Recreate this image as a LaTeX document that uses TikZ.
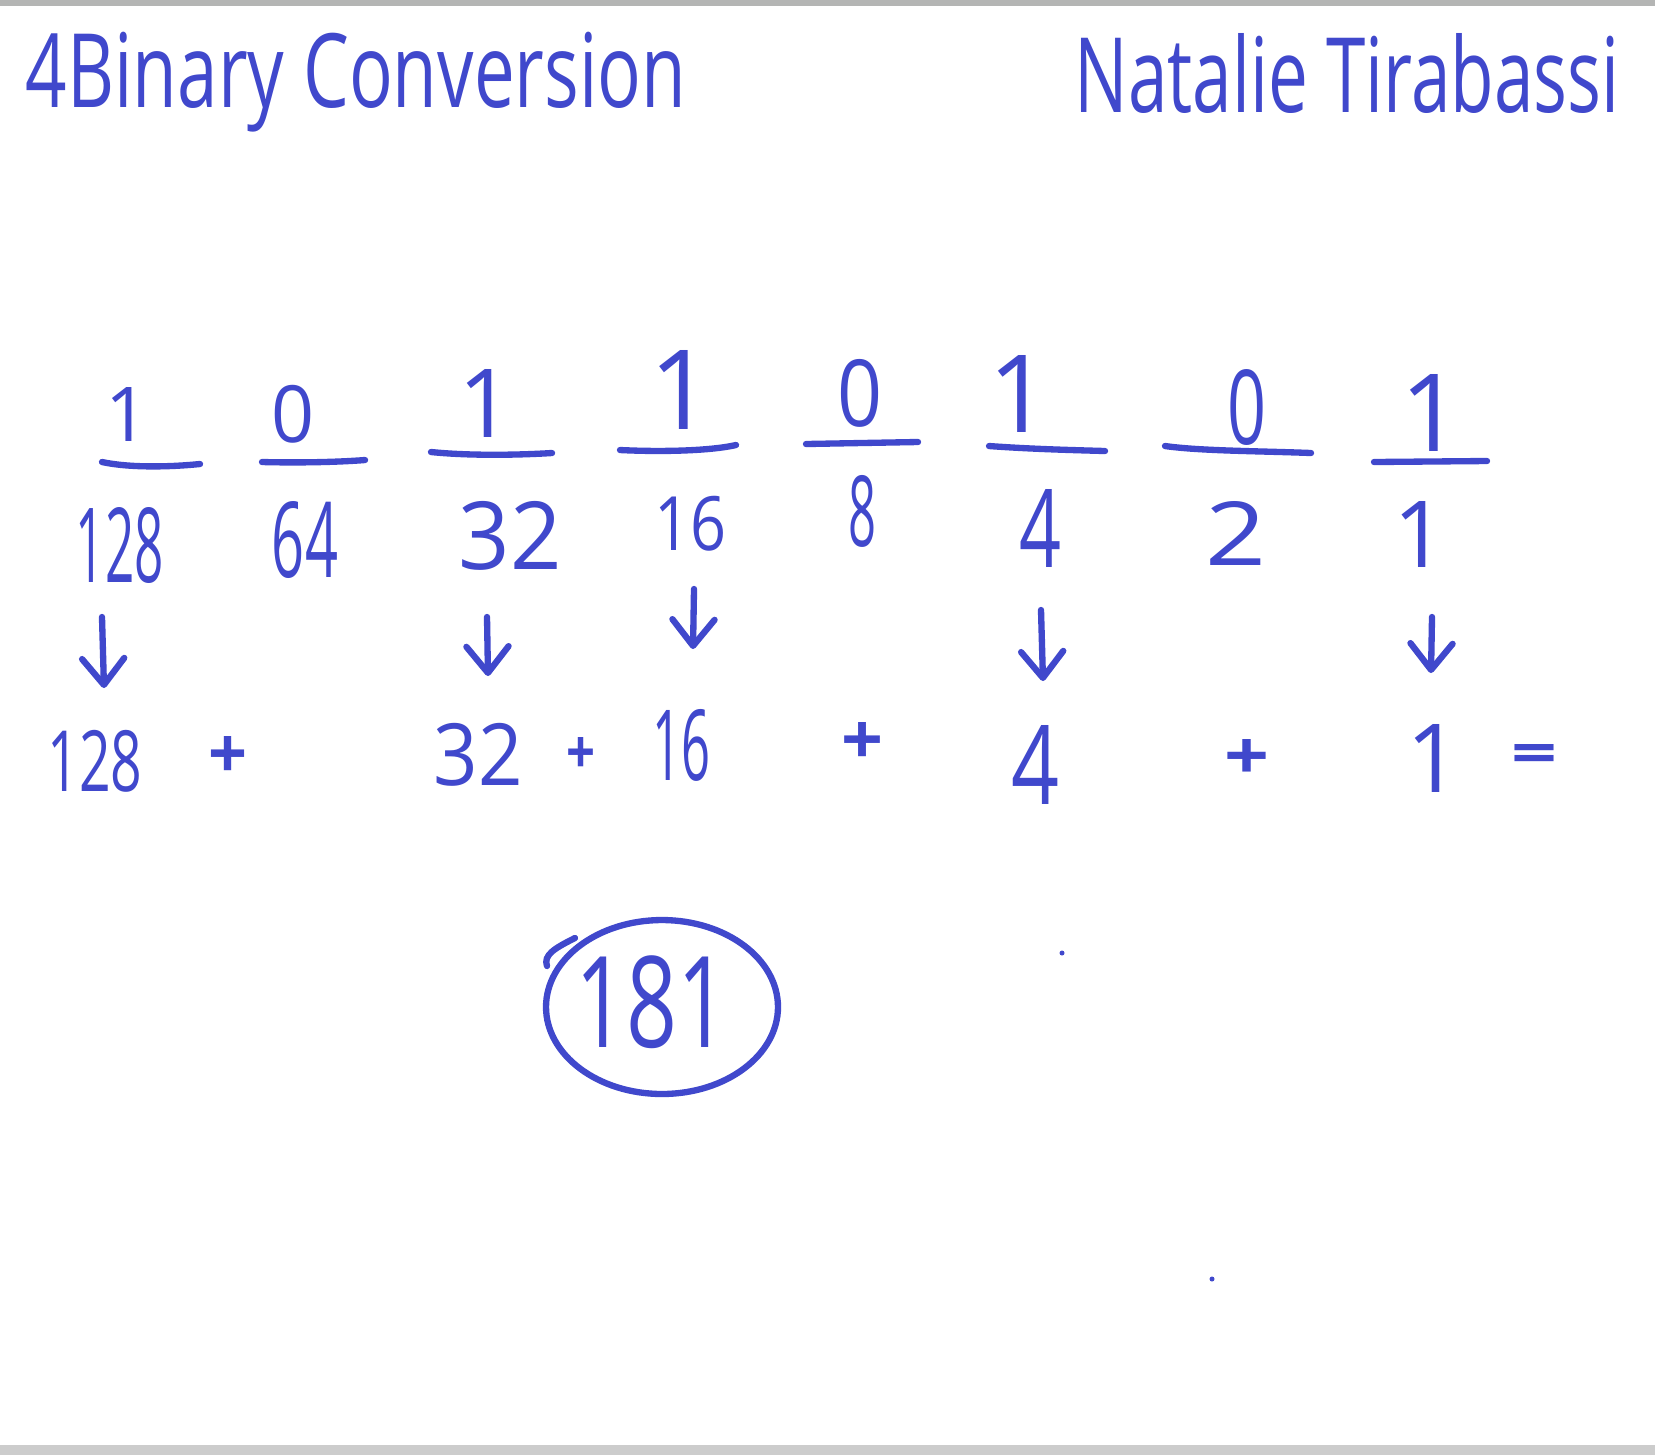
\documentclass[tikz,border=0pt]{standalone}
\usepackage{fontspec}
\setmainfont{Open Sans}
\usetikzlibrary{arrows.meta}
\definecolor{ink}{RGB}{64,72,204}
\definecolor{bartop}{RGB}{180,181,180}
\definecolor{barbot}{RGB}{204,204,204}
\newlength\pxu \setlength\pxu{0.02cm}
\newcommand{\hwx}[3]{\resizebox*{#1\pxu}{#2\pxu}{#3}}
\newcommand{\hhx}[2]{\resizebox*{!}{#1\pxu}{#2}}
\begin{document}
\begin{tikzpicture}[x=0.02cm,y=-0.02cm,
  txt/.style={inner sep=0pt, text=ink, anchor=center},
  inkline/.style={draw=ink, line width=3.6pt, line cap=round, line join=round},
  arr/.style={inkline, -{Straight Barb[length=15pt,width=24pt,round]}}]
\useasboundingbox (0,0) rectangle (1655,1455);
\fill[white] (0,0) rectangle (1655,1455);
\fill[bartop] (0,0) rectangle (1655,6);
\fill[barbot] (0,1445) rectangle (1655,1455);

% header
\node[txt] (title) at (356,82) {\hwx{660}{100}{4Binary Conversion}};
\node[txt] (author) at (1347,73) {\hwx{545}{80}{Natalie Tirabassi}};

% bits
\node[txt] (b1) at (127,414) {\hhx{54}{1}};
\node[txt] (b2) at (293,414) {\hwx{43}{58}{0}};
\node[txt] (b3) at (486,403) {\hhx{68}{1}};
\node[txt] (b4) at (681,390) {\hhx{79}{1}};
\node[txt] (b5) at (860,393) {\hwx{45}{68}{0}};
\node[txt] (b6) at (1019,394) {\hhx{77}{1}};
\node[txt] (b7) at (1247,407) {\hwx{39}{76}{0}};
\node[txt] (b8) at (1431,413) {\hhx{77}{1}};

% lines under bits
\draw[inkline] (102,462) .. controls (130,468) and (170,467) .. (200,464);
\draw[inkline] (262,462) .. controls (300,463) and (340,462) .. (365,460);
\draw[inkline] (431,452) .. controls (470,456) and (520,455) .. (552,453);
\draw[inkline] (620,450) .. controls (660,452) and (710,451) .. (736,445);
\draw[inkline] (806,444) -- (918,442);
\draw[inkline] (989,446) .. controls (1030,449) and (1070,450) .. (1105,451);
\draw[inkline] (1165,446) .. controls (1200,451) and (1260,451) .. (1311,453);
\draw[inkline] (1374,462) -- (1487,461);

% weights
\node[txt] (w1) at (120,545) {\hwx{88}{76}{128}};
\node[txt] (w2) at (305,540) {\hwx{66}{77}{64}};
\node[txt] (w3) at (510,536) {\hwx{103}{69}{32}};
\node[txt] (w4) at (690,524) {\hwx{72}{55}{16}};
\node[txt] (w5) at (862,511) {\hwx{28}{72}{8}};
\node[txt] (w6) at (1040,528) {\hwx{42}{78}{4}};
\node[txt] (w7) at (1236,533) {\hwx{61}{64}{2}};
\node[txt] (w8) at (1420,534) {\hhx{66}{1}};

% arrow coordinates
\coordinate (a1s) at (102,617); \coordinate (a1e) at (104,688);
\coordinate (a3s) at (487,617); \coordinate (a3e) at (488,676);
\coordinate (a4s) at (694,589); \coordinate (a4e) at (693,649);
\coordinate (a6s) at (1041,610); \coordinate (a6e) at (1043,681);
\coordinate (a8s) at (1432,617); \coordinate (a8e) at (1431,673);
\draw[arr] (a1s) -- (a1e);
\draw[arr] (a3s) -- (a3e);
\draw[arr] (a4s) -- (a4e);
\draw[arr] (a6s) -- (a6e);
\draw[arr] (a8s) -- (a8e);

% sum row
\node[txt] (s128) at (95,761) {\hwx{95}{62}{128}};
\node[txt] (p1) at (228,757) {\hwx{39}{42}{\bfseries +}};
\node[txt] (s32) at (478,755) {\hwx{89}{63}{32}};
\node[txt] (p2) at (581,755) {\hwx{29}{36}{\bfseries +}};
\node[txt] (s16) at (681,745) {\hwx{58}{72}{16}};
\node[txt] (p3) at (862,743) {\hwx{42}{42}{\bfseries +}};
\node[txt] (s4) at (1035,765) {\hwx{48}{79}{4}};
\node[txt] (p4) at (1247,759) {\hwx{45}{40}{\bfseries +}};
\node[txt] (s1) at (1434,758) {\hhx{68}{1}};
\node[txt] (eq) at (1534,759) {\hwx{46}{29}{\bfseries =}};

% result
\node[txt] (res) at (652,1002) {\hwx{153}{93}{181}};
\draw[inkline] (662,1007) ellipse [x radius=2.32cm, y radius=1.74cm];
\draw[inkline] (547,966) .. controls (543,955) and (555,948) .. (575,938);

% stray dots
\fill[ink] (1062,953) circle [radius=0.05cm];
\fill[ink] (1212,1279) circle [radius=0.05cm];
\end{tikzpicture}
\end{document}
